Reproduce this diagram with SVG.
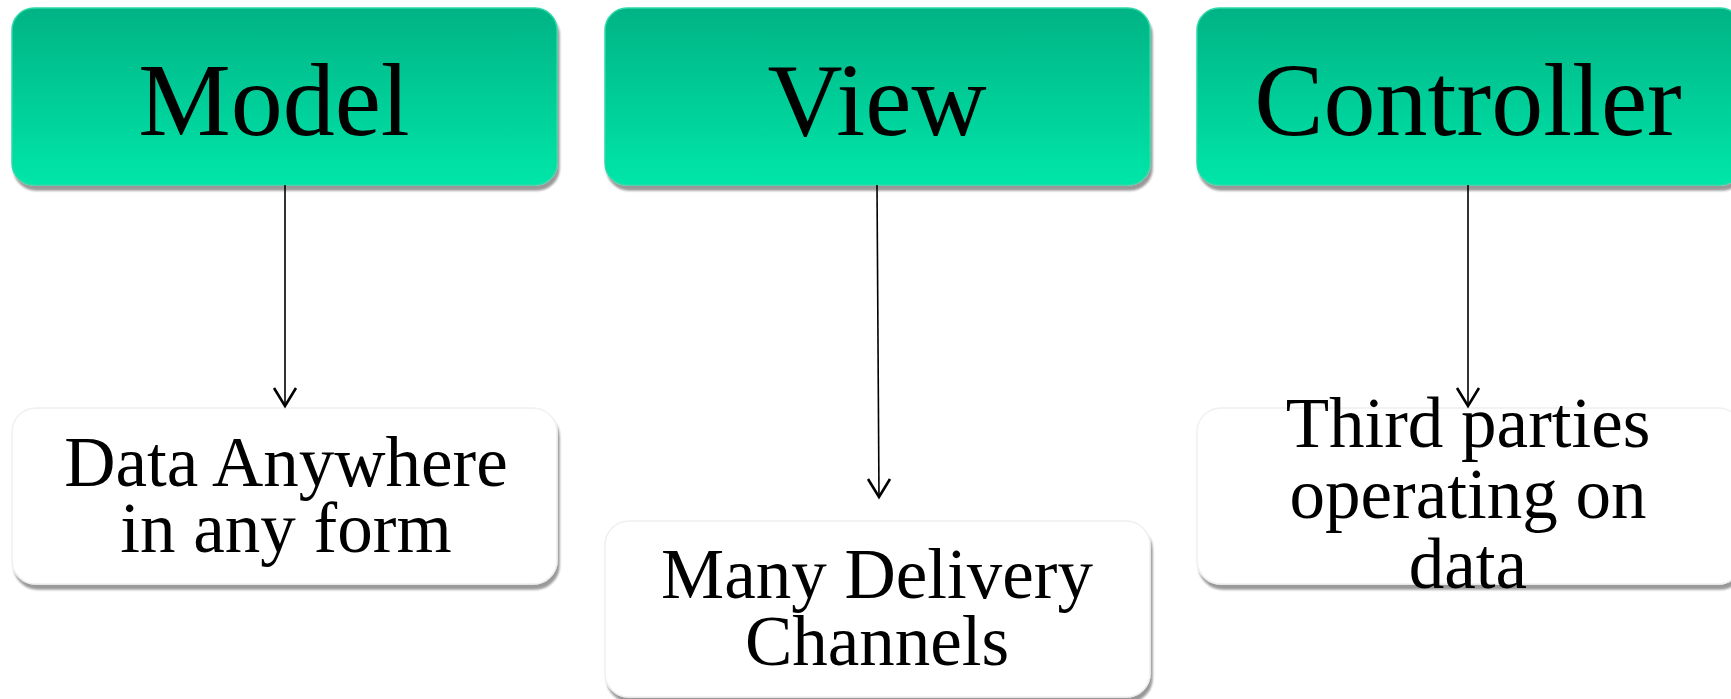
<svg xmlns="http://www.w3.org/2000/svg" width="1731" height="699" viewBox="0 0 1731 699">
<defs>
<linearGradient id="g" x1="0" y1="0" x2="0" y2="1">
<stop offset="0" stop-color="#01b385"/>
<stop offset="1" stop-color="#02e6a9"/>
</linearGradient>
<marker id="arr" markerWidth="30" markerHeight="24" refX="13" refY="20" orient="0" markerUnits="userSpaceOnUse">
<path d="M2,2 L13,20 L24,2" fill="none" stroke="#000" stroke-width="2.6"/>
</marker>
<filter id="sh" x="-5%" y="-5%" width="110%" height="115%">
<feGaussianBlur in="SourceAlpha" stdDeviation="1.2"/>
<feOffset dx="2" dy="5" result="b"/>
<feComponentTransfer><feFuncA type="linear" slope="0.4"/></feComponentTransfer>
<feMerge><feMergeNode/><feMergeNode in="SourceGraphic"/></feMerge>
</filter>
</defs>
<style>
.top{fill:url(#g);stroke:#2fd9a8;stroke-width:1.5;filter:url(#sh)}
.bot{fill:#fff;stroke:#f0f0f0;stroke-width:1.5;filter:url(#sh)}
.t1{font-family:"Liberation Serif",serif;font-size:104px;fill:#000;text-anchor:middle}
.t2{font-family:"Liberation Serif",serif;font-size:71px;fill:#000;text-anchor:middle}
.c{stroke:#000;stroke-width:1.6;fill:none}
</style>
<rect width="1731" height="699" fill="#fff"/>
<g id="model">
<rect class="top" x="12" y="8" width="545" height="177" rx="22"/>
<text class="t1" x="274" y="135">Model</text>
</g>
<g id="view">
<rect class="top" x="605" y="8" width="545" height="177" rx="22"/>
<text class="t1" x="877" y="135">View</text>
</g>
<g id="controller">
<rect class="top" x="1197" y="8" width="545" height="177" rx="22"/>
<text class="t1" x="1468" y="135">Controller</text>
</g>
<g id="data">
<rect class="bot" x="12" y="408" width="545" height="176" rx="24"/>
<text class="t2" x="286" y="486">Data Anywhere</text>
<text class="t2" x="286" y="552">in any form</text>
</g>
<g id="delivery">
<rect class="bot" x="605" y="521" width="545" height="176" rx="24"/>
<text class="t2" x="877" y="598">Many Delivery</text>
<text class="t2" x="877" y="665">Channels</text>
</g>
<g id="third">
<rect class="bot" x="1197" y="408" width="545" height="176" rx="24"/>
<text class="t2" x="1468" y="447">Third parties</text>
<text class="t2" x="1468" y="518">operating on</text>
<text class="t2" x="1468" y="588">data</text>
</g>
<g id="connectors">
<line class="c" x1="285" y1="185" x2="285" y2="406" marker-end="url(#arr)"/>
<line class="c" x1="877" y1="185" x2="879" y2="497" marker-end="url(#arr)"/>
<line class="c" x1="1468" y1="185" x2="1468" y2="406" marker-end="url(#arr)"/>
</g>
</svg>
